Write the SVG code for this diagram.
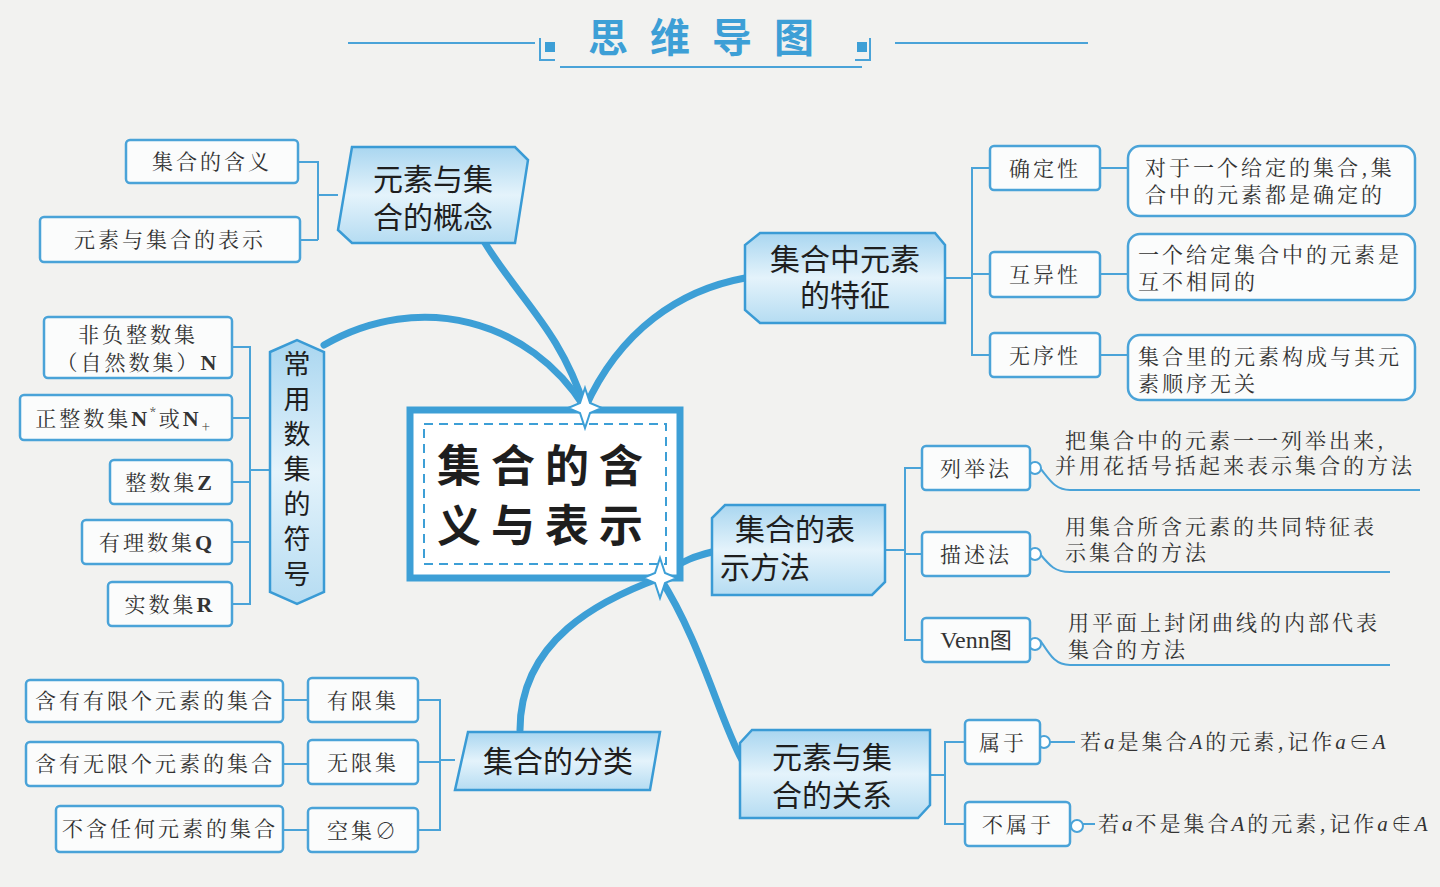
<svg xmlns="http://www.w3.org/2000/svg" width="1440" height="887" viewBox="0 0 1440 887">
<defs>
<linearGradient id="hg" x1="0" y1="0" x2="0" y2="1"><stop offset="0" stop-color="#a9d6f0"/><stop offset="0.5" stop-color="#e4f3fb"/><stop offset="1" stop-color="#b5dcf2"/></linearGradient>
<style>
.hx{fill:url(#hg);stroke:#3a9bd5;stroke-width:2.5}
.bx{fill:#fbfcfc;stroke:#4aa3d8;stroke-width:2.5}
.ln{fill:none;stroke:#4aa3d8;stroke-width:2}
.thick{fill:none;stroke:#3d9fd6;stroke-width:7;stroke-linecap:round}
.h{font-family:"Noto Sans CJK SC",sans-serif;fill:#1e1e1e;font-size:30px}
.v{font-family:"Noto Sans CJK SC",sans-serif;fill:#1e1e1e;font-size:27px}
.s{font-family:"Noto Serif CJK SC","Noto Sans CJK SC",serif;fill:#333;font-size:21px;letter-spacing:3px}
.dot{fill:#fff;stroke:#4aa3d8;stroke-width:2}
</style>
</defs>
<rect width="1440" height="887" fill="#f2f2f0"/>
<g id="title">
<line x1="348" y1="43" x2="535" y2="43" class="ln"/><line x1="895" y1="43" x2="1088" y2="43" class="ln"/>
<path d="M540 38 V60 H555 M870 38 V60 H855" class="ln" stroke-width="3"/>
<rect x="545" y="42" width="10" height="10" fill="#3d9fd6"/><rect x="857" y="42" width="10" height="10" fill="#3d9fd6"/>
<line x1="560" y1="67" x2="862" y2="67" class="ln" stroke-width="4"/>
<text x="712" y="52" text-anchor="middle" font-family="Noto Sans CJK SC,sans-serif" font-weight="bold" font-size="40" fill="#3d9fd6" letter-spacing="22">思维导图</text>
</g>
<g id="connectors">
<path class="thick" d="M585 408 C560 330 520 300 485 243"/>
<path class="thick" d="M585 408 C530 320 420 290 324 345"/>
<path class="thick" d="M585 408 C620 330 680 290 745 278"/>
<path class="thick" d="M660 578 C680 560 700 555 712 552"/>
<path class="thick" d="M660 578 C700 640 720 720 742 760"/>
<path class="thick" d="M660 578 C600 600 520 640 520 730"/>
<path class="ln" d="M298 162 H318 V240 H318 M318 195 H338 M318 240 H300"/>
<path class="ln" d="M232 347 H250 V604 H232 M232 418 H250 M232 482 H250 M232 542 H250 M250 470 H270"/>
<path class="ln" d="M945 278 H972 M990 168 H972 V355 H990 M972 274 H990 M1100 168 H1128 M1100 274 H1128 M1100 355 H1128"/>
<path class="ln" d="M885 550 H905 M922 468 H905 V640 H922 M905 554 H922"/>
<path class="ln" d="M1040 468 C1050 480 1055 490 1070 490 H1420 M1040 554 C1050 566 1055 572 1070 572 H1390 M1040 640 C1050 655 1055 665 1070 665 H1390"/>
<path class="ln" d="M930 775 H945 M965 742 H945 V824 H965 M1040 742 H1075 M1070 824 H1095"/>
<path class="ln" d="M455 760 H440 M418 700 H440 V830 H418 M418 762 H440 M283 700 H308 M283 764 H308 M283 830 H308"/>
<circle cx="1035" cy="468" r="6" class="dot"/><circle cx="1035" cy="554" r="6" class="dot"/><circle cx="1035" cy="644" r="6" class="dot"/>
<circle cx="1044" cy="742" r="6" class="dot"/><circle cx="1077" cy="826" r="6" class="dot"/>
</g>
<g id="center">
<rect x="410" y="410" width="270" height="168" fill="#fff" stroke="#3d9fd6" stroke-width="7"/>
<rect x="424" y="424" width="242" height="140" fill="none" stroke="#3d9fd6" stroke-width="2" stroke-dasharray="9 6"/>
<text x="545" y="482" text-anchor="middle" font-family="Noto Sans CJK SC,sans-serif" font-size="44" font-weight="bold" fill="#1e1e1e" letter-spacing="10">集合的含</text>
<text x="545" y="542" text-anchor="middle" font-family="Noto Sans CJK SC,sans-serif" font-size="44" font-weight="bold" fill="#1e1e1e" letter-spacing="10">义与表示</text>
<path d="M585 388 L590 403 L602 408 L590 413 L585 428 L580 413 L568 408 L580 403Z" fill="#fff" stroke="#3d9fd6" stroke-width="2"/>
<path d="M660 558 L665 573 L677 578 L665 583 L660 598 L655 583 L643 578 L655 573Z" fill="#fff" stroke="#3d9fd6" stroke-width="2"/>
</g>
<g id="n-concept">
<path class="hx" d="M352 147 H515 L528 160 L515 243 H352 L338 230Z"/>
<text class="h" x="433" y="190" text-anchor="middle">元素与集</text><text class="h" x="433" y="228" text-anchor="middle">合的概念</text>
<rect class="bx" x="126" y="140" width="172" height="43" rx="4"/><text class="s" x="212" y="169" text-anchor="middle" font-size="23">集合的含义</text>
<rect class="bx" x="40" y="217" width="260" height="45" rx="4"/><text class="s" x="170" y="247" text-anchor="middle" font-size="23">元素与集合的表示</text>
</g>
<g id="n-numsets">
<path class="hx" d="M270 352 L297 340 L324 352 V592 L297 604 L270 592Z"/>
<text class="v" x="297" y="374" text-anchor="middle">常</text><text class="v" x="297" y="409" text-anchor="middle">用</text><text class="v" x="297" y="444" text-anchor="middle">数</text><text class="v" x="297" y="479" text-anchor="middle">集</text><text class="v" x="297" y="514" text-anchor="middle">的</text><text class="v" x="297" y="549" text-anchor="middle">符</text><text class="v" x="297" y="584" text-anchor="middle">号</text>
<rect class="bx" x="44" y="317" width="188" height="61" rx="4"/>
<text class="s" x="138" y="342" text-anchor="middle" letter-spacing="10">非负整数集</text>
<text class="s" x="138" y="370" text-anchor="middle">（自然数集）<tspan font-family="Liberation Serif,serif" font-weight="bold" font-size="22">N</tspan></text>
<rect class="bx" x="20" y="395" width="212" height="45" rx="4"/>
<text class="s" x="124" y="426" text-anchor="middle" letter-spacing="0">正整数集<tspan font-family="Liberation Serif,serif" font-weight="bold" font-size="22">N</tspan><tspan font-size="12" dy="-9">*</tspan><tspan dy="9">或</tspan><tspan font-family="Liberation Serif,serif" font-weight="bold" font-size="22">N</tspan><tspan font-size="14" dy="6">+</tspan></text>
<rect class="bx" x="110" y="460" width="122" height="44" rx="4"/><text class="s" x="170" y="490" text-anchor="middle">整数集<tspan font-family="Liberation Serif,serif" font-weight="bold" font-size="22">Z</tspan></text>
<rect class="bx" x="82" y="520" width="150" height="44" rx="4"/><text class="s" x="157" y="550" text-anchor="middle">有理数集<tspan font-family="Liberation Serif,serif" font-weight="bold" font-size="22">Q</tspan></text>
<rect class="bx" x="108" y="582" width="124" height="44" rx="4"/><text class="s" x="170" y="612" text-anchor="middle">实数集<tspan font-family="Liberation Serif,serif" font-weight="bold" font-size="22">R</tspan></text>
</g>
<g id="n-features">
<path class="hx" d="M760 233 H935 L945 245 V323 H760 L745 310 V245Z"/>
<text class="h" x="845" y="270" text-anchor="middle">集合中元素</text><text class="h" x="845" y="306" text-anchor="middle">的特征</text>
<rect class="bx" x="990" y="146" width="110" height="44" rx="4"/><text class="s" x="1045" y="176" text-anchor="middle" font-size="24">确定性</text>
<rect class="bx" x="990" y="252" width="110" height="45" rx="4"/><text class="s" x="1045" y="282" text-anchor="middle" font-size="24">互异性</text>
<rect class="bx" x="990" y="333" width="110" height="44" rx="4"/><text class="s" x="1045" y="363" text-anchor="middle" font-size="24">无序性</text>
<rect class="bx" x="1128" y="146" width="287" height="70" rx="12"/><text class="s" x="1145" y="175" font-size="19">对于一个给定的集合,集</text><text class="s" x="1145" y="202" font-size="19">合中的元素都是确定的</text>
<rect class="bx" x="1128" y="234" width="287" height="66" rx="12"/><text class="s" x="1138" y="262" font-size="19">一个给定集合中的元素是</text><text class="s" x="1138" y="289" font-size="19">互不相同的</text>
<rect class="bx" x="1128" y="335" width="287" height="65" rx="12"/><text class="s" x="1138" y="364" font-size="19">集合里的元素构成与其元</text><text class="s" x="1138" y="391" font-size="19">素顺序无关</text>
</g>
<g id="n-methods">
<path class="hx" d="M725 505 H885 V582 L872 595 H712 V518Z"/>
<text class="h" x="795" y="540" text-anchor="middle">集合的表</text><text class="h" x="765" y="578" text-anchor="middle">示方法</text>
<rect class="bx" x="922" y="446" width="108" height="44" rx="4"/><text class="s" x="976" y="476" text-anchor="middle" font-size="23">列举法</text>
<rect class="bx" x="922" y="532" width="108" height="44" rx="4"/><text class="s" x="976" y="562" text-anchor="middle" font-size="23">描述法</text>
<rect class="bx" x="922" y="618" width="108" height="44" rx="4"/><text x="976" y="648" text-anchor="middle" font-family="Liberation Serif,serif" font-size="24" fill="#333">Venn<tspan font-family="Noto Sans CJK SC,sans-serif" font-size="22">图</tspan></text>
<text class="s" x="1065" y="448" font-size="18">把集合中的元素一一列举出来,</text>
<text class="s" x="1055" y="473" font-size="18">并用花括号括起来表示集合的方法</text>
<text class="s" x="1065" y="534" font-size="18">用集合所含元素的共同特征表</text>
<text class="s" x="1065" y="560" font-size="18">示集合的方法</text>
<text class="s" x="1068" y="630" font-size="18">用平面上封闭曲线的内部代表</text>
<text class="s" x="1068" y="657" font-size="18">集合的方法</text>
</g>
<g id="n-relation">
<path class="hx" d="M752 730 H930 V805 L918 818 H740 V743Z"/>
<text class="h" x="832" y="768" text-anchor="middle">元素与集</text><text class="h" x="832" y="806" text-anchor="middle">合的关系</text>
<rect class="bx" x="965" y="720" width="75" height="44" rx="4"/><text class="s" x="1003" y="750" text-anchor="middle" font-size="23">属于</text>
<rect class="bx" x="965" y="802" width="105" height="44" rx="4"/><text class="s" x="1018" y="832" text-anchor="middle" font-size="23">不属于</text>
<text class="s" x="1080" y="749" font-size="19" letter-spacing="0">若<tspan font-family="Liberation Serif,serif" font-style="italic">a</tspan>是集合<tspan font-family="Liberation Serif,serif" font-style="italic">A</tspan>的元素,记作<tspan font-family="Liberation Serif,serif" font-style="italic">a</tspan>∈<tspan font-family="Liberation Serif,serif" font-style="italic">A</tspan></text>
<text class="s" x="1098" y="831" font-size="19" letter-spacing="0">若<tspan font-family="Liberation Serif,serif" font-style="italic">a</tspan>不是集合<tspan font-family="Liberation Serif,serif" font-style="italic">A</tspan>的元素,记作<tspan font-family="Liberation Serif,serif" font-style="italic">a</tspan>∉<tspan font-family="Liberation Serif,serif" font-style="italic">A</tspan></text>
</g>
<g id="n-classify">
<path class="hx" d="M468 732 H660 L650 790 H455Z"/>
<text class="h" x="558" y="772" text-anchor="middle">集合的分类</text>
<rect class="bx" x="308" y="678" width="110" height="44" rx="4"/><text class="s" x="363" y="708" text-anchor="middle" font-size="23">有限集</text>
<rect class="bx" x="308" y="740" width="110" height="44" rx="4"/><text class="s" x="363" y="770" text-anchor="middle" font-size="23">无限集</text>
<rect class="bx" x="308" y="808" width="110" height="44" rx="4"/><text class="s" x="363" y="838" text-anchor="middle" font-size="23">空集∅</text>
<rect class="bx" x="26" y="680" width="257" height="42" rx="4"/><text class="s" x="155" y="708" text-anchor="middle" font-size="18" letter-spacing="2">含有有限个元素的集合</text>
<rect class="bx" x="26" y="742" width="257" height="44" rx="4"/><text class="s" x="155" y="771" text-anchor="middle" font-size="18" letter-spacing="2">含有无限个元素的集合</text>
<rect class="bx" x="56" y="806" width="227" height="46" rx="4"/><text class="s" x="170" y="836" text-anchor="middle" font-size="18" letter-spacing="1">不含任何元素的集合</text>
</g>
</svg>
